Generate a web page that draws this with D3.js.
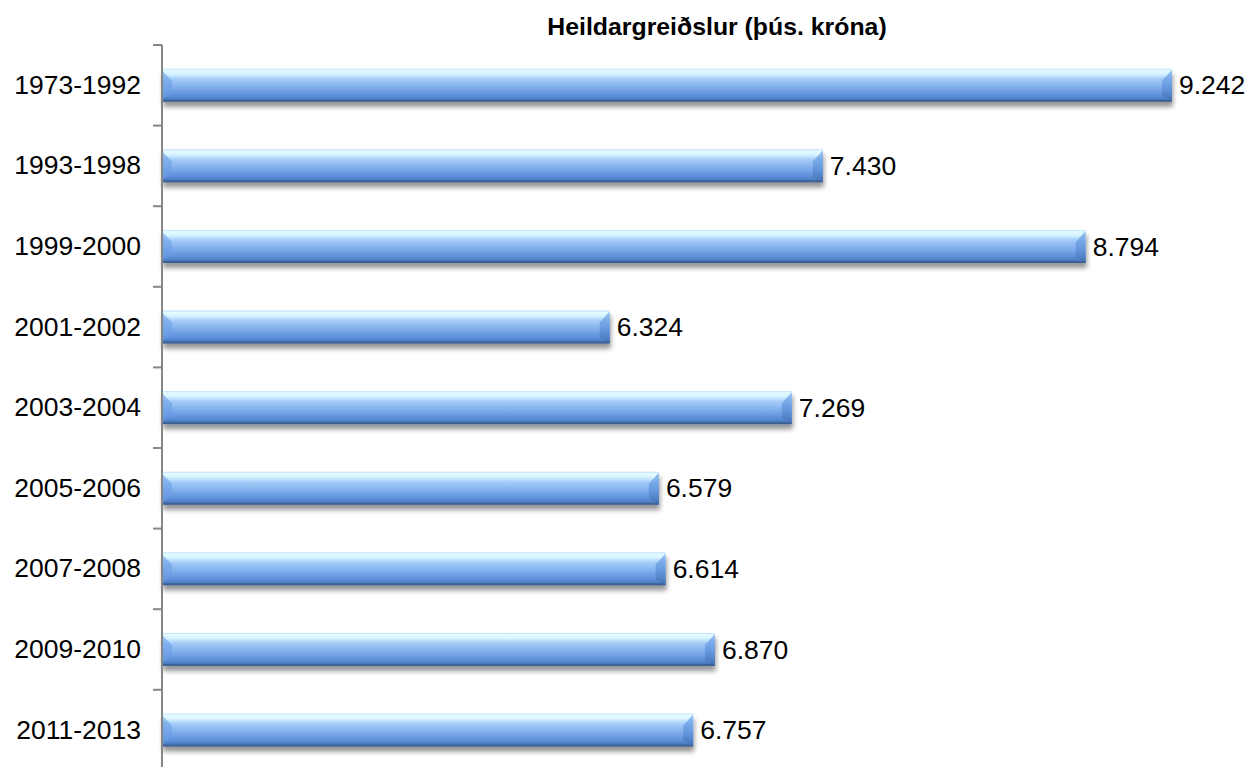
<!DOCTYPE html>
<html>
<head>
<meta charset="utf-8">
<script src="https://cdn.jsdelivr.net/npm/d3@7"></script>
<style>
  html, body { margin: 0; padding: 0; background: #fff; }
  svg { display: block; font-family: Arial, "Liberation Sans", sans-serif; }
</style>
</head>
<body>
<svg id="chart" width="1252" height="767"></svg>
<script>
const title = 'Heildargreiðslur (þús. króna)';
const periods = ['1973-1992', '1993-1998', '1999-2000', '2001-2002', '2003-2004',
  '2005-2006', '2007-2008', '2009-2010', '2011-2013'];
const payments = [9242, 7430, 8794, 6324, 7269, 6579, 6614, 6870, 6757];
const xDomain = [4000, 10000];

const rows = periods.map((p, i) => ({ period: p, value: payments[i] }));
const fmt = v => d3.format(',')(v).replace(/,/g, '.');
const stretch = 1.06; // text in the picture is drawn a little wider than normal

const svg = d3.select('#chart');
const x = d3.scaleLinear().domain(xDomain).range([162, 1318]);
const y = d3.scaleBand().domain(periods)
  .range([45, 770.4])
  .paddingInner(0.59)
  .paddingOuter(0.295);

// gradients and shadow
const defs = svg.append('defs');
const grad = defs.append('linearGradient').attr('id', 'barFill')
  .attr('x1', 0).attr('y1', 0).attr('x2', 0).attr('y2', 1);
[
  [0, '#b7dcfd'], [0.05, '#e4fcff'], [0.16, '#d6f3ff'], [0.3, '#a6cef8'],
  [0.55, '#82afed'], [0.82, '#5b8fd8'], [0.92, '#4c7dc2'], [0.95, '#3d6399'], [1, '#3a5d90']
].forEach(([o, c]) => grad.append('stop').attr('offset', o).attr('stop-color', c));

const endGrad = defs.append('linearGradient').attr('id', 'endFill')
  .attr('x1', 0).attr('y1', 0).attr('x2', 0).attr('y2', 1);
[[0, '#86b6f0'], [0.6, '#5e92da'], [1, '#456fae']]
  .forEach(([o, c]) => endGrad.append('stop').attr('offset', o).attr('stop-color', c));

const shadow = defs.append('filter').attr('id', 'shadow')
  .attr('x', '-5%').attr('y', '-30%').attr('width', '110%').attr('height', '190%');
shadow.append('feGaussianBlur').attr('in', 'SourceAlpha').attr('stdDeviation', 2.5);
shadow.append('feOffset').attr('dx', 1).attr('dy', 5).attr('result', 'off');
shadow.append('feComponentTransfer').append('feFuncA').attr('type', 'linear').attr('slope', 0.42);
const merge = shadow.append('feMerge');
merge.append('feMergeNode');
merge.append('feMergeNode').attr('in', 'SourceGraphic');

// title
svg.append('text')
  .attr('transform', `translate(${[717, 35]}) scale(1.08,1)`)
  .attr('text-anchor', 'middle')
  .attr('font-size', 23)
  .attr('font-weight', 'bold')
  .attr('fill', '#000')
  .text(title);

// bars
const bar = svg.append('g').selectAll('g.bar').data(rows).join('g')
  .attr('class', 'bar')
  .attr('filter', 'url(#shadow)');

bar.append('rect')
  .attr('x', x(xDomain[0]))
  .attr('y', d => y(d.period))
  .attr('width', d => x(d.value) - x(xDomain[0]))
  .attr('height', y.bandwidth())
  .attr('fill', 'url(#barFill)');

const bev = 10;
// left bevel facet
bar.append('path')
  .attr('d', d => {
    const x0 = x(xDomain[0]), y0 = y(d.period), y1 = y0 + y.bandwidth();
    return `M${x0},${y0 + 2}L${x0 + bev},${y0 + bev + 2}L${x0 + bev},${y1 - bev}L${x0},${y1 - 2}Z`;
  })
  .attr('fill', '#6a9fe6')
  .attr('opacity', 0.6);
// right bevel facet
bar.append('path')
  .attr('d', d => {
    const x1 = x(d.value), y0 = y(d.period), y1 = y0 + y.bandwidth();
    return `M${x1},${y0 + 1}L${x1 - bev},${y0 + bev + 2}L${x1 - bev},${y1 - 6}L${x1},${y1 - 1}Z`;
  })
  .attr('fill', 'url(#endFill)')
  .attr('opacity', 0.85);

// value labels
svg.append('g').selectAll('text').data(rows).join('text')
  .attr('transform', d => `translate(${[x(d.value) + 7, y(d.period) + y.bandwidth() / 2 + 9]}) scale(${stretch},1)`)
  .attr('font-size', 25)
  .attr('fill', '#000')
  .text(d => fmt(d.value));

// category axis
const axis = svg.append('g').attr('class', 'axis');
axis.append('line')
  .attr('x1', 162).attr('x2', 162)
  .attr('y1', 45).attr('y2', 770)
  .attr('stroke', '#868686').attr('stroke-width', 2);
axis.selectAll('line.tick').data(d3.range(periods.length + 1)).join('line')
  .attr('class', 'tick')
  .attr('x1', 153).attr('x2', 162)
  .attr('y1', i => 45 + i * y.step())
  .attr('y2', i => 45 + i * y.step())
  .attr('stroke', '#868686').attr('stroke-width', 2);
axis.selectAll('text').data(periods).join('text')
  .attr('transform', d => `translate(${[141, y(d) + y.bandwidth() / 2 + 8.5]}) scale(${stretch},1)`)
  .attr('text-anchor', 'end')
  .attr('font-size', 25)
  .attr('fill', '#000')
  .text(d => d);
</script>
</body>
</html>
